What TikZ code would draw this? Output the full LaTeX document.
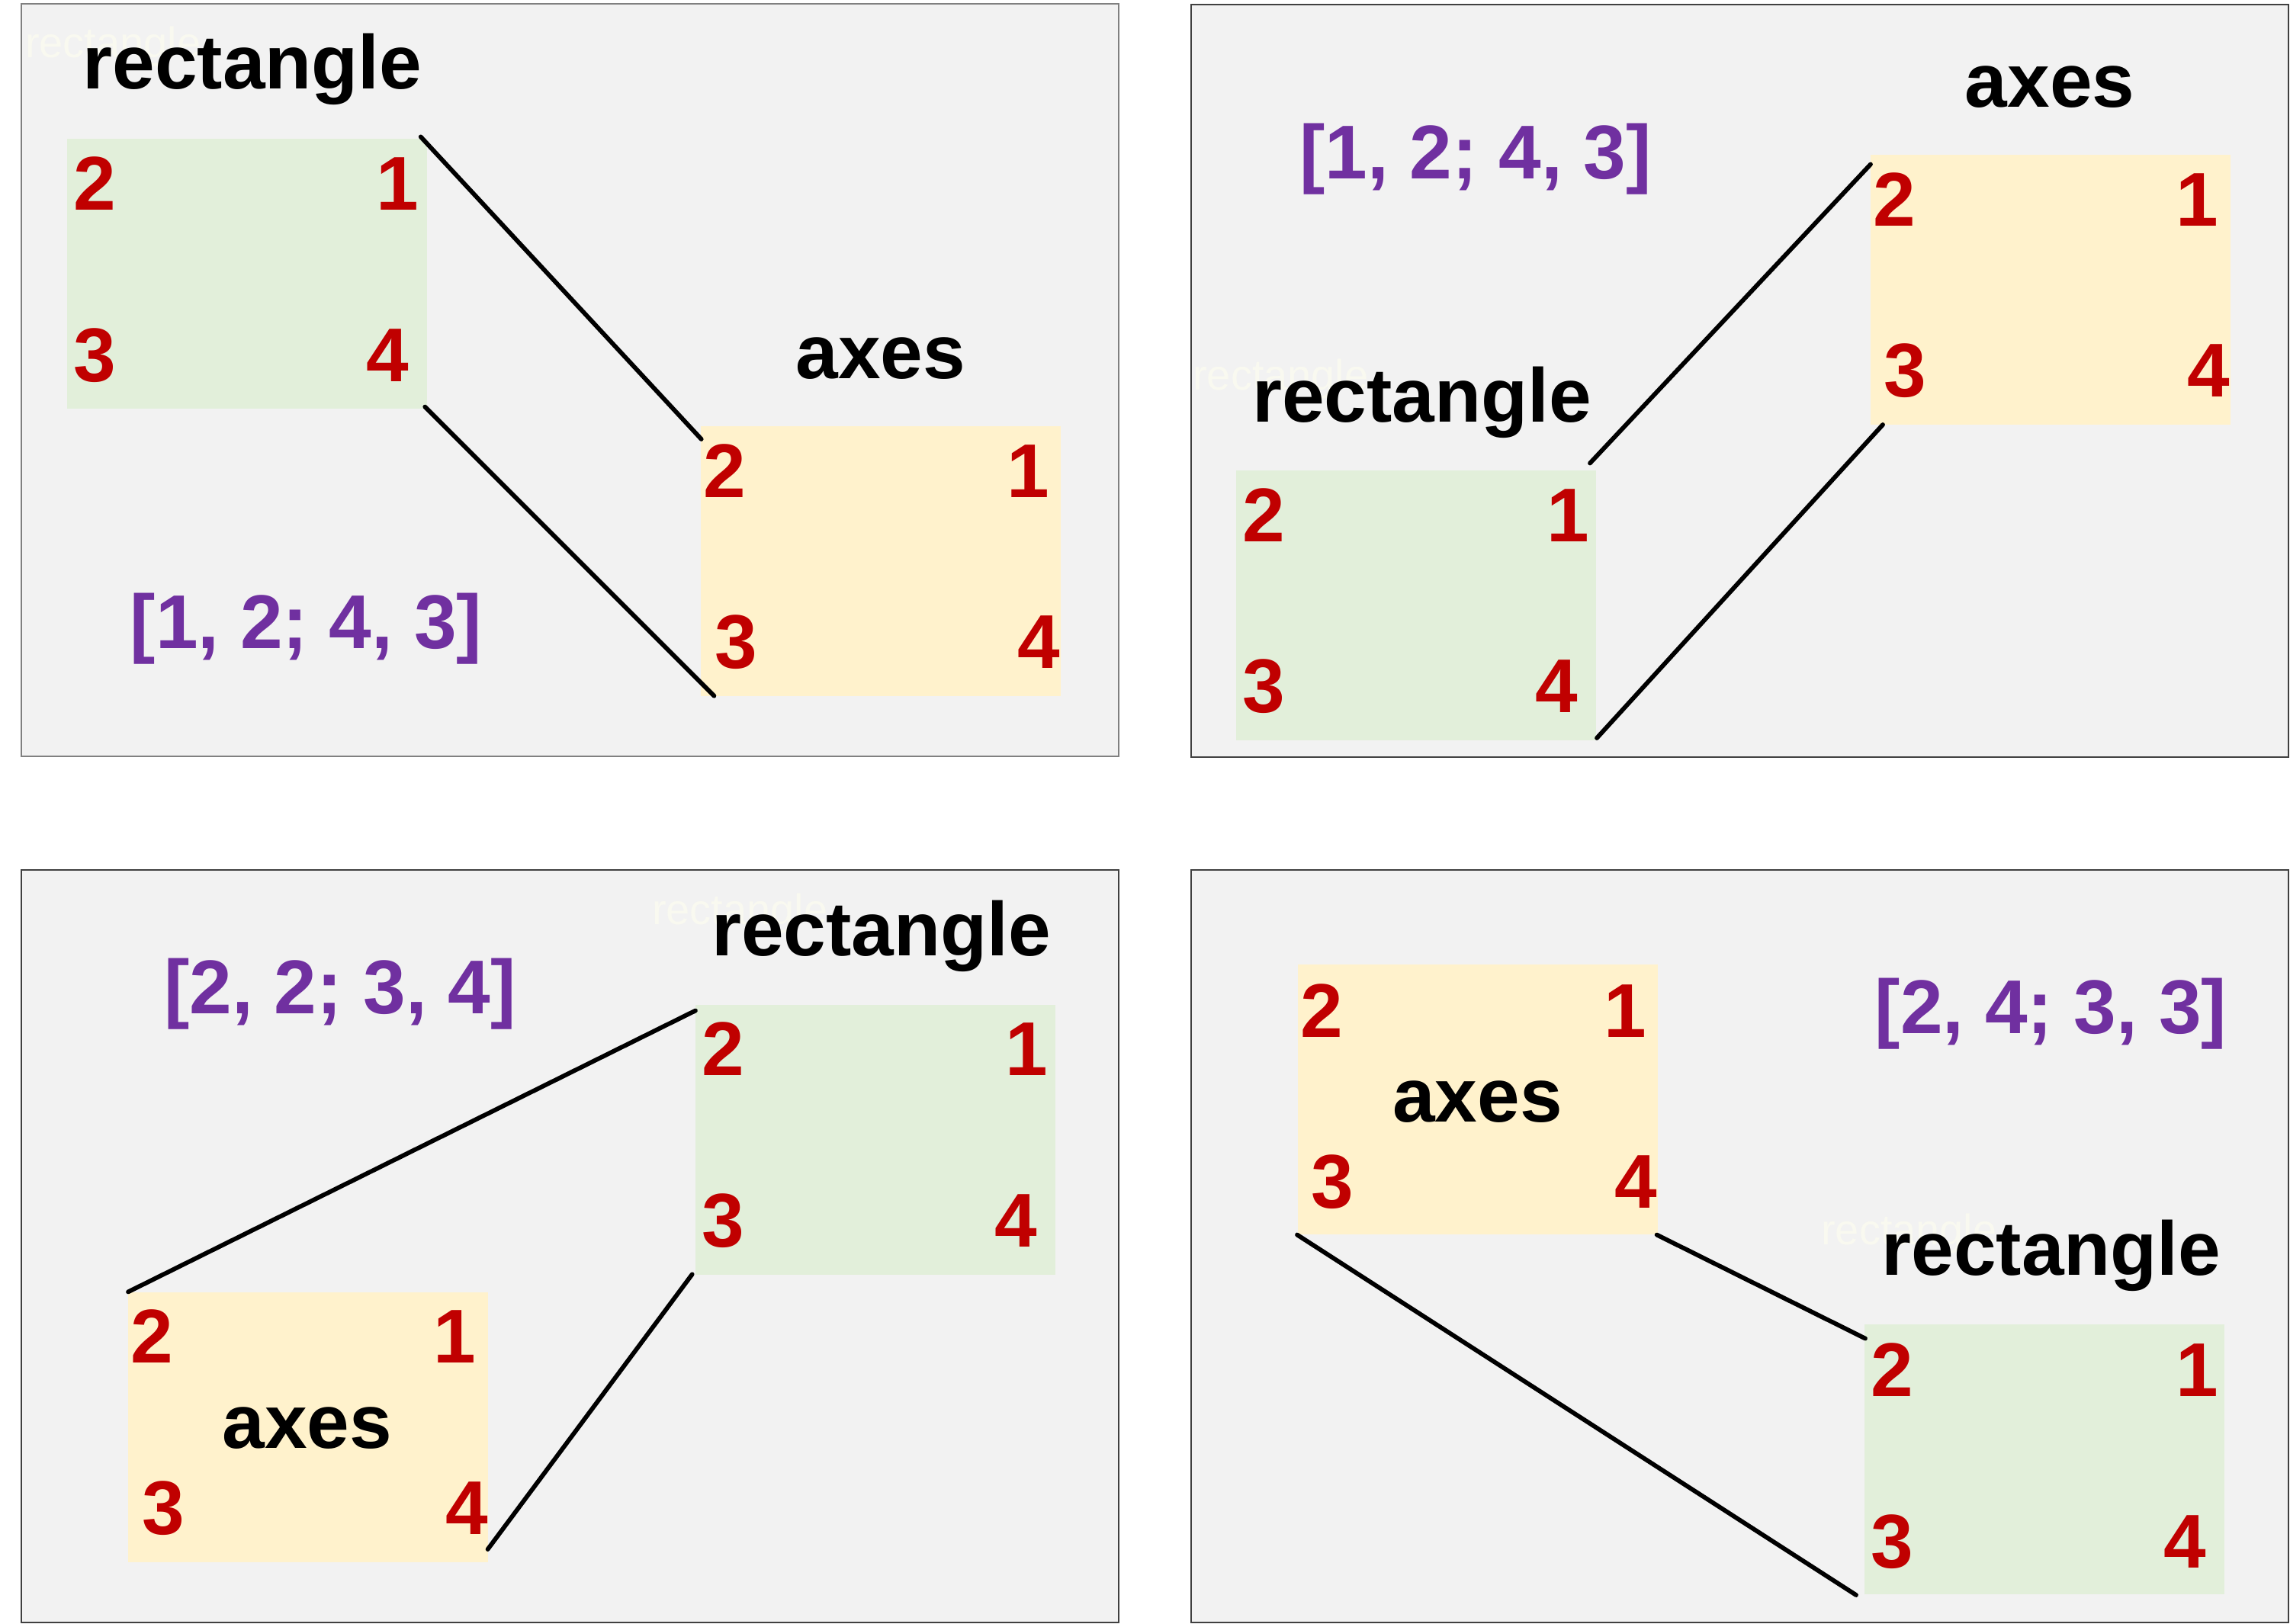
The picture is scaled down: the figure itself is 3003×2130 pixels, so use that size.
\documentclass[tikz,border=0pt]{standalone}
\usepackage{fontspec}
\setmainfont{Liberation Sans}
\definecolor{panelbg}{HTML}{F2F2F2}
\definecolor{greenfill}{HTML}{E2EFDA}
\definecolor{yellowfill}{HTML}{FFF2CC}
\definecolor{numred}{HTML}{C00000}
\definecolor{purp}{HTML}{7030A0}
\definecolor{ghostc}{HTML}{F9F9F0}
\definecolor{bordA}{HTML}{808080}
\definecolor{bordB}{HTML}{404040}
\newcommand\myBig{\fontsize{100pt}{120pt}\selectfont\bfseries}
\newcommand\myGhost{\fontsize{56pt}{60pt}\selectfont}
\begin{document}
\begin{tikzpicture}[x=1pt,y=-1pt,
  panel/.style={draw=#1, line width=2pt, fill=panelbg, anchor=north west, inner sep=0pt,
    minimum width=1439pt, minimum height=987pt},
  gbox/.style={fill=greenfill, anchor=north west, inner sep=0pt, minimum width=472pt, minimum height=354pt},
  ybox/.style={fill=yellowfill, anchor=north west, inner sep=0pt, minimum width=472pt, minimum height=354pt},
  num/.style={text=numred, font=\myBig, inner sep=0pt, anchor=base},
  lbl/.style={text=black, font=\myBig, inner sep=0pt, anchor=base},
  mat/.style={text=purp, font=\myBig, inner sep=0pt, anchor=base},
  ghost/.style={text=ghostc, font=\myGhost, inner sep=0pt, anchor=base west},
  conn/.style={draw=black, line width=5.8pt, line cap=round}]
\useasboundingbox[fill=white] (0,0) rectangle (3003,2130);

% ---------------- panel 1 ----------------
\node[panel=bordA] (P1) at (27,4) {};
\node[ghost] (gh1) at (33,76) {rectangle};
\node[lbl] (t1r) at (331,117) {rectangle};
\node[gbox] (g1) at (88,182) {};
\node[num] (g1n2) at (124,275.5) {2};
\node[num] (g1n1) at (521.5,275.5) {1};
\node[num] (g1n3) at (124,500) {3};
\node[num] (g1n4) at (508,500) {4};
\node[lbl] (t1a) at (1155,496.5) {axes};
\node[ybox] (y1) at (919,558.5) {};
\node[num] (y1n2) at (950,652) {2};
\node[num] (y1n1) at (1348,652) {1};
\node[num] (y1n3) at (965,876) {3};
\node[num] (y1n4) at (1362.5,876) {4};
\node[mat] (m1) at (401.5,850) {[1, 2; 4, 3]};
\coordinate (c1a) at (551.7,179.4);
\coordinate (c1b) at (919.7,576);
\coordinate (c1c) at (557.3,533.6);
\coordinate (c1d) at (936.4,912.7);
\draw[conn] (c1a) -- (c1b);
\draw[conn] (c1c) -- (c1d);

% ---------------- panel 2 ----------------
\node[panel=bordB] (P2) at (1561,5) {};
\node[mat] (m2) at (1935,234) {[1, 2; 4, 3]};
\node[lbl] (t2a) at (2688,140.5) {axes};
\node[ybox] (y2) at (2453,202.5) {};
\node[num] (y2n2) at (2484,296) {2};
\node[num] (y2n1) at (2881.5,296) {1};
\node[num] (y2n3) at (2498,520.5) {3};
\node[num] (y2n4) at (2896.5,520.5) {4};
\node[ghost] (gh2) at (1564,511) {rectangle};
\node[lbl] (t2r) at (1864.5,553) {rectangle};
\node[gbox] (g2) at (1621,617) {};
\node[num] (g2n2) at (1657.5,710) {2};
\node[num] (g2n1) at (2056,710) {1};
\node[num] (g2n3) at (1657.5,934) {3};
\node[num] (g2n4) at (2041,934) {4};
\coordinate (c2a) at (2085,607.5);
\coordinate (c2b) at (2453,215.5);
\coordinate (c2c) at (2094,968);
\coordinate (c2d) at (2469,557);
\draw[conn] (c2a) -- (c2b);
\draw[conn] (c2c) -- (c2d);

% ---------------- panel 3 ----------------
\node[panel=bordB] (P3) at (27,1140) {};
\node[ghost] (gh3) at (855,1212) {rectangle};
\node[lbl] (t3r) at (1155.5,1253) {rectangle};
\node[mat] (m3) at (446,1329) {[2, 2; 3, 4]};
\node[gbox] (g3) at (912,1318) {};
\node[num] (g3n2) at (948,1410.5) {2};
\node[num] (g3n1) at (1346.5,1410.5) {1};
\node[num] (g3n3) at (948,1635) {3};
\node[num] (g3n4) at (1332,1635) {4};
\node[ybox] (y3) at (168,1695) {};
\node[num] (y3n2) at (199,1787) {2};
\node[num] (y3n1) at (596.5,1787) {1};
\node[lbl] (t3a) at (403,1899) {axes};
\node[num] (y3n3) at (214.5,2012.5) {3};
\node[num] (y3n4) at (612,2012.5) {4};
\coordinate (c3a) at (168,1694.4);
\coordinate (c3b) at (912,1325.5);
\coordinate (c3c) at (639.6,2032);
\coordinate (c3d) at (907.7,1671.3);
\draw[conn] (c3a) -- (c3b);
\draw[conn] (c3c) -- (c3d);

% ---------------- panel 4 ----------------
\node[panel=bordB] (P4) at (1561,1140) {};
\node[ybox] (y4) at (1702,1265) {};
\node[num] (y4n2) at (1733,1360) {2};
\node[num] (y4n1) at (2131,1360) {1};
\node[lbl] (t4a) at (1937.5,1471.5) {axes};
\node[num] (y4n3) at (1747.5,1584) {3};
\node[num] (y4n4) at (2145,1584) {4};
\node[mat] (m4) at (2689.5,1355) {[2, 4; 3, 3]};
\node[ghost] (gh4) at (2388,1632) {rectangle};
\node[lbl] (t4r) at (2690,1672) {rectangle};
\node[gbox] (g4) at (2445,1737) {};
\node[num] (g4n2) at (2481,1831) {2};
\node[num] (g4n1) at (2881,1831) {1};
\node[num] (g4n3) at (2481,2056) {3};
\node[num] (g4n4) at (2865,2056) {4};
\coordinate (c4a) at (2172.6,1619.5);
\coordinate (c4b) at (2446,1755.5);
\coordinate (c4c) at (1701,1619.5);
\coordinate (c4d) at (2434,2092);
\draw[conn] (c4a) -- (c4b);
\draw[conn] (c4c) -- (c4d);
\end{tikzpicture}
\end{document}
